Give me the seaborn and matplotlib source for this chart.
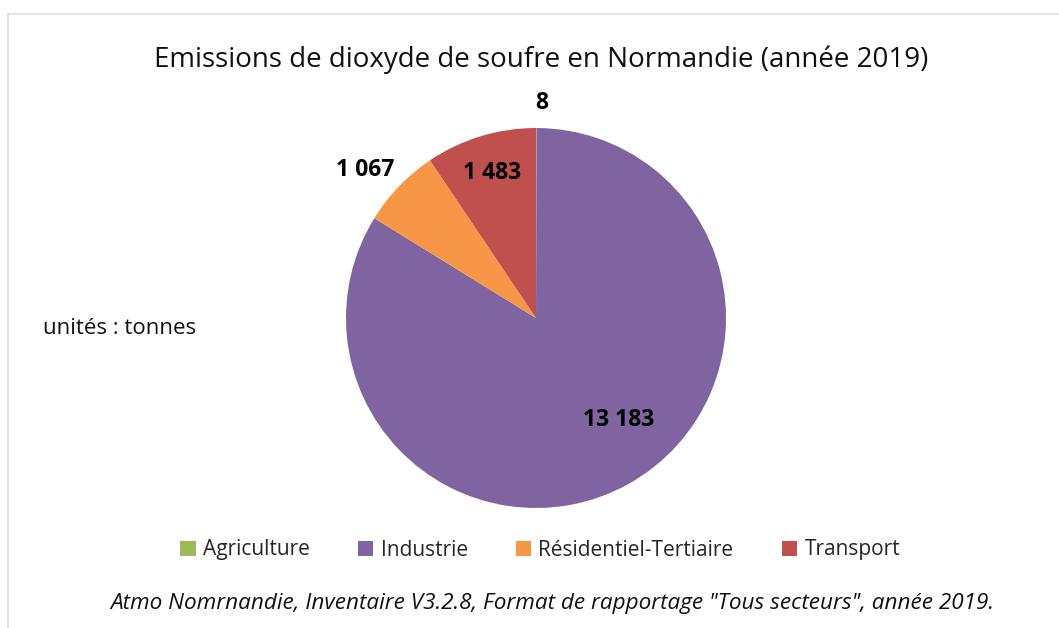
import numpy as np
import matplotlib
matplotlib.use("Agg")
import matplotlib.pyplot as plt
from matplotlib.patches import Patch
from matplotlib.lines import Line2D
import seaborn as sns

categories = ["Agriculture", "Industrie", "Résidentiel-Tertiaire", "Transport"]
values = [8, 13183, 1067, 1483]
value_labels = ["8", "13 183", "1 067", "1 483"]
colors = ["#9BBB59", "#8064A2", "#F79646", "#C0504D"]

title = "Emissions de dioxyde de soufre en Normandie (année 2019)"
units = "unités : tonnes"
source = 'Atmo Nomrnandie, Inventaire V3.2.8, Format de rapportage "Tous secteurs", année 2019.'

# label placement (radius factor, angle shift in degrees)
label_pos = [(1.13, -1.5), (0.69, 10.0), (1.19, 3.0), (0.80, 0.0)]

sns.set_theme(style="white")
plt.rcParams['font.family'] = ['Open Sans', 'DejaVu Sans']

W, H = 1059, 628
fig = plt.figure(figsize=(W / 100, H / 100), dpi=100)
fig.patch.set_facecolor("white")

# frame lines (chart area border)
fig.add_artist(Line2D([8 / W, 1], [1 - 14 / H, 1 - 14 / H], color="#D9DCEE", lw=1.2))
fig.add_artist(Line2D([8 / W, 8 / W], [1 - 14 / H, 0], color="#D9DCEE", lw=1.2))

R = 190
cx, cy = 536, 318
ax = fig.add_axes([(cx - R) / W, 1 - (cy + R) / H, 2 * R / W, 2 * R / H])
wedges, _ = ax.pie(values, colors=colors, startangle=90, counterclock=False,
                   wedgeprops=dict(linewidth=0))
ax.set_xlim(-1, 1)
ax.set_ylim(-1, 1)
ax.set_aspect("equal")
ax.axis("off")

for w, lab, (d, shift) in zip(wedges, value_labels, label_pos):
    ang = np.deg2rad((w.theta1 + w.theta2) / 2 + shift)
    ax.text(d * np.cos(ang), d * np.sin(ang), lab, ha="center", va="center",
            fontsize=16.5, fontweight="bold", color="black", clip_on=False)

fig.text(541 / W, 1 - 60 / H, title, ha="center", va="center", fontsize=20, color="#111111")
fig.text(43 / W, 1 - 328 / H, units, ha="left", va="center", fontsize=16, color="#111111")

handles = [Patch(facecolor=c, edgecolor="none") for c in colors]
leg = fig.legend(handles, categories, loc="center", bbox_to_anchor=(540 / W, 1 - 550 / H),
                 ncol=4, frameon=False, fontsize=15, handlelength=0.75, handleheight=0.75,
                 handletextpad=0.35, columnspacing=2.3)

fig.text(552 / W, 1 - 604 / H, source, ha="center", va="center", fontsize=16.2,
         style="italic", color="#111111")

fig.savefig("out.png", dpi=100)
